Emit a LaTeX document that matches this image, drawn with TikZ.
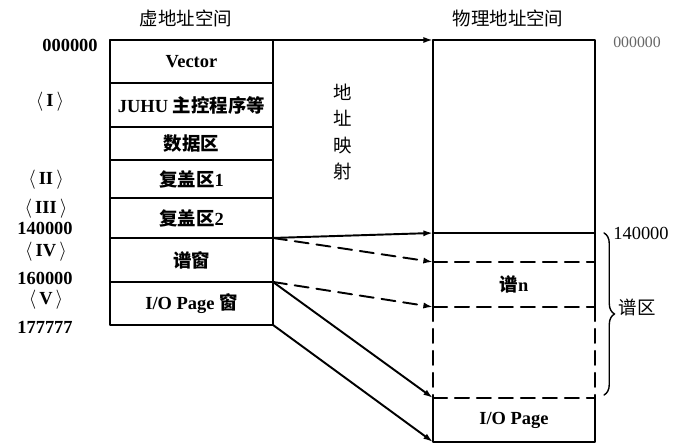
\documentclass[tikz,border=0pt]{standalone}
\usepackage{fontspec}
\setmainfont{Liberation Serif}
\newfontfamily\cjk{Noto Sans CJK SC}
\usetikzlibrary{arrows.meta,decorations.pathreplacing}
\newcommand{\rn}[1]{$\langle$\,#1\,$\rangle$}
\tikzset{
  vcell/.style={draw, anchor=north west, minimum width=3.26cm, inner sep=0pt, outer sep=0pt,
    font=\fontsize{10.5}{12}\selectfont\bfseries},
  addr/.style={inner sep=0.5pt, font=\fontsize{10.5}{12}\selectfont\bfseries},
  plain/.style={font=\fontsize{10.5}{12}\selectfont},
  dash line/.style={dash pattern=on 8pt off 4.5pt},
  map arrow/.style={-{Latex[length=5.5pt,width=3.5pt]}},
}
\begin{document}
\begin{tikzpicture}[x=0.02cm, y=-0.02cm, line width=1.1pt, line cap=round, line join=round]
  \useasboundingbox (0,0) rectangle (676,448);
  % virtual address space
  \node[plain] (vtitle) at (186,18) {\cjk 虚地址空间};
  \node[vcell, minimum height=0.86cm] (vec) at (110,40) {Vector};
  \node[vcell, minimum height=0.88cm] (juhu) at (vec.south west) {JUHU {\cjk 主控程序等}};
  \node[vcell, minimum height=0.66cm] (data) at (juhu.south west) {\cjk 数据区};
  \node[vcell, minimum height=0.76cm] (ov1) at (data.south west) {{\cjk 复盖区}1};
  \node[vcell, minimum height=0.80cm] (ov2) at (ov1.south west) {{\cjk 复盖区}2};
  \node[vcell, minimum height=0.88cm] (win) at (ov2.south west) {\cjk 谱窗};
  \node[vcell, minimum height=0.86cm] (iow) at (win.south west) {I/O Page {\cjk 窗}};
  % addresses and regions
  \node[addr] (a0) at (70,45) {000000};
  \node[addr] (r1) at (50,102) {\rn{I}};
  \node[addr] (r2) at (46,180) {\rn{II}};
  \node[addr] (r3) at (46,209) {\rn{III}};
  \node[addr] (a14) at (45,228) {140000};
  \node[addr] (r4) at (46,252) {\rn{IV}};
  \node[addr] (a16) at (45,278) {160000};
  \node[addr] (r5) at (46,300) {\rn{V}};
  \node[addr] (a17) at (45,327) {177777};
  % address mapping
  \node[plain, align=center, font=\fontsize{10.5}{15}\selectfont] (map) at (343,132) {\cjk 地\\\cjk 址\\\cjk 映\\\cjk 射};
  % physical address space
  \node[plain] (ptitle) at (508,18) {\cjk 物理地址空间};
  \coordinate (ptl) at (433,40);  \coordinate (ptr) at (595,40);
  \coordinate (pal) at (433,233); \coordinate (par) at (595,233);
  \coordinate (pnl) at (433,262); \coordinate (pnr) at (595,262);
  \coordinate (pbl) at (433,307); \coordinate (pbr) at (595,307);
  \coordinate (iol) at (433,398); \coordinate (ior) at (595,398);
  \coordinate (ibl) at (433,442); \coordinate (ibr) at (595,442);
  \draw[map arrow] (vec.north west) -- (ptl);
  \draw (ptl) -- (ptr) -- (pbr);
  \draw (ptl) -- (pbl);
  \draw[dash line] (pbr) -- (ior);
  \draw[dash line] (pbl) -- (iol);
  \draw (ior) -- (ibr) -- (ibl) -- (iol);
  \draw (pal) -- (par);
  \draw[dash line] (pnl) -- (pnr);
  \draw[dash line] (pbl) -- (pbr);
  \draw[dash line] (iol) -- (ior);
  \node[addr] (pn) at (514,284) {{\cjk 谱}n};
  \node[addr] (pio) at (514,420) {I/O Page};
  % mapping arrows
  \draw[map arrow] (win.north east) -- (pal);
  \draw[map arrow, dash line] (win.north east) -- (pnl);
  \draw[map arrow, dash line] (win.south east) -- (pbl);
  \draw[map arrow] (win.south east) -- (iol);
  \draw[map arrow] (iow.south east) -- (ibl);
  % right side labels
  \node[plain, text=black!60] (b0) at (637,42) {\fontsize{9}{10}\selectfont 000000};
  \node[plain] (b14) at (641,233) {140000};
  \draw[line width=0.8pt, decorate, decoration={brace, amplitude=6pt}] (604,233) -- (604,395);
  \node[plain] (zone) at (637,307) {\cjk 谱区};
\end{tikzpicture}
\end{document}
